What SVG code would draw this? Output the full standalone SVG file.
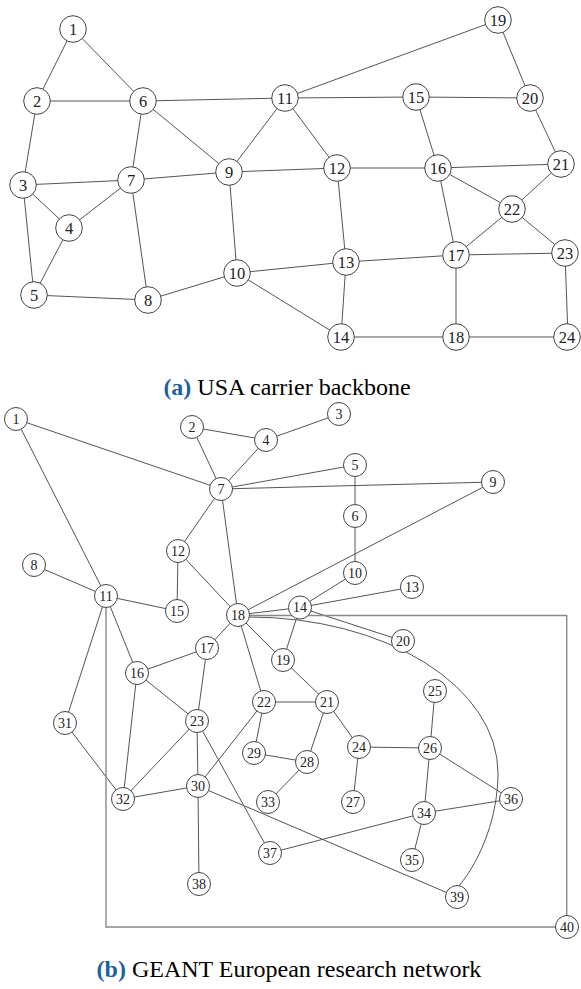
<svg xmlns="http://www.w3.org/2000/svg" width="581" height="989" viewBox="0 0 581 989">
<style>
.e{stroke:#555;stroke-width:1;fill:none}
.r{stroke:#888;stroke-width:1.4;fill:none}
.na circle{fill:#fff;stroke:#444;stroke-width:1}
.nb circle{fill:#fff;stroke:#444;stroke-width:1}
.na text{font-family:"Liberation Serif",serif;font-size:16.5px;fill:#222;text-anchor:middle}
.nb text{font-family:"Liberation Serif",serif;font-size:14px;fill:#222;text-anchor:middle}
.cap{font-family:"Liberation Serif",serif;font-size:24px;fill:#000;text-anchor:middle}
.lb{font-weight:bold;fill:#1f5f9e}
</style>
<rect width="581" height="989" fill="#fff"/>
<g id="connectors-a">
<path class="e" d="M73,29L37,101M73,29L143,101M37,101L143,101M37,101L23,185M143,101L131,180M143,101L229,172M143,101L285,98M23,185L131,180M23,185L69,228M23,185L34,295M69,228L131,180M69,228L34,295M131,180L229,172M131,180L148,300M34,295L148,300M148,300L237,273M229,172L237,273M229,172L285,98M229,172L337,168M285,98L337,168M285,98L416,97M285,98L498,20M416,97L530,98M416,97L438,168M498,20L530,98M530,98L561,164M337,168L438,168M438,168L561,164M438,168L512,209M438,168L456,255M561,164L512,209M512,209L456,255M512,209L565,253M337,168L346,262M237,273L346,262M237,273L341,337M346,262L456,255M346,262L341,337M456,255L565,253M456,255L456,337M341,337L456,337M456,337L568,337M565,253L568,337"/>
</g>
<g id="a1" class="na"><circle cx="73" cy="29" r="13.3"/><text x="73" y="34.6">1</text></g>
<g id="a2" class="na"><circle cx="37" cy="101" r="13.3"/><text x="37" y="106.6">2</text></g>
<g id="a3" class="na"><circle cx="23" cy="185" r="13.3"/><text x="23" y="190.6">3</text></g>
<g id="a4" class="na"><circle cx="69" cy="228" r="13.3"/><text x="69" y="233.6">4</text></g>
<g id="a5" class="na"><circle cx="34" cy="295" r="13.3"/><text x="34" y="300.6">5</text></g>
<g id="a6" class="na"><circle cx="143" cy="101" r="13.3"/><text x="143" y="106.6">6</text></g>
<g id="a7" class="na"><circle cx="131" cy="180" r="13.3"/><text x="131" y="185.6">7</text></g>
<g id="a8" class="na"><circle cx="148" cy="300" r="13.3"/><text x="148" y="305.6">8</text></g>
<g id="a9" class="na"><circle cx="229" cy="172" r="13.3"/><text x="229" y="177.6">9</text></g>
<g id="a10" class="na"><circle cx="237" cy="273" r="13.3"/><text x="237" y="278.6">10</text></g>
<g id="a11" class="na"><circle cx="285" cy="98" r="13.3"/><text x="285" y="103.6">11</text></g>
<g id="a12" class="na"><circle cx="337" cy="168" r="13.3"/><text x="337" y="173.6">12</text></g>
<g id="a13" class="na"><circle cx="346" cy="262" r="13.3"/><text x="346" y="267.6">13</text></g>
<g id="a14" class="na"><circle cx="341" cy="337" r="13.3"/><text x="341" y="342.6">14</text></g>
<g id="a15" class="na"><circle cx="416" cy="97" r="13.3"/><text x="416" y="102.6">15</text></g>
<g id="a16" class="na"><circle cx="438" cy="168" r="13.3"/><text x="438" y="173.6">16</text></g>
<g id="a17" class="na"><circle cx="456" cy="255" r="13.3"/><text x="456" y="260.6">17</text></g>
<g id="a18" class="na"><circle cx="456" cy="337" r="13.3"/><text x="456" y="342.6">18</text></g>
<g id="a19" class="na"><circle cx="498" cy="20" r="13.3"/><text x="498" y="25.6">19</text></g>
<g id="a20" class="na"><circle cx="530" cy="98" r="13.3"/><text x="530" y="103.6">20</text></g>
<g id="a21" class="na"><circle cx="561" cy="164" r="13.3"/><text x="561" y="169.6">21</text></g>
<g id="a22" class="na"><circle cx="512" cy="209" r="13.3"/><text x="512" y="214.6">22</text></g>
<g id="a23" class="na"><circle cx="565" cy="253" r="13.3"/><text x="565" y="258.6">23</text></g>
<g id="a24" class="na"><circle cx="567" cy="337" r="13.3"/><text x="567" y="342.6">24</text></g>
<text class="cap" x="287" y="395"><tspan class="lb">(a)</tspan> USA carrier backbone</text>
<g id="connectors-b">
<path class="e" d="M16,419L221,489M16,419L106,596M192,427L266,440M192,427L221,489M266,440L339,414M266,440L221,489M221,489L355,465M221,489L493,482M221,489L178,551M221,489L238,615M355,465L355,516M355,516L355,573M178,551L177,611M178,551L238,615M34,565L106,596M106,596L177,611M106,596L137,673M106,596L65,723M238,615L493,482M238,615L300,607.5M238,615L207,648M238,615L283,660M238,615L264,702M300,607.5L355,573M300,607.5L412,587M300,607.5L403,641M300,607.5L283,660M283,660L327,702M327,702L264,702M327,702L359,747M327,702L307,762M264,702L254,753M264,702L198,786M254,753L307,762M307,762L268,802M359,747L430,748M359,747L353,802M430,748L435,691M430,748L424,813M430,748L511,799M424,813L511,799M424,813L412,860M424,813L270,853M207,648L137,673M207,648L197,721M137,673L197,721M137,673L123,799M197,721L123,799M197,721L198,786M197,721L270,853M198,786L123,799M198,786L199,884M198,786L457,897M65,723L123,799"/>
<path class="e" d="M249,617A249,156 0 0 1 498,773C498,815 482,858 459,886"/>
<path class="r" d="M238,615.5H566.7V927M106,596V927H566.7"/>
</g>
<g id="b1" class="nb"><circle cx="16" cy="419" r="11.5"/><text x="16" y="423.8">1</text></g>
<g id="b2" class="nb"><circle cx="192" cy="427" r="11.5"/><text x="192" y="431.8">2</text></g>
<g id="b3" class="nb"><circle cx="339" cy="414" r="11.5"/><text x="339" y="418.8">3</text></g>
<g id="b4" class="nb"><circle cx="266" cy="440" r="11.5"/><text x="266" y="444.8">4</text></g>
<g id="b5" class="nb"><circle cx="355" cy="465" r="11.5"/><text x="355" y="469.8">5</text></g>
<g id="b6" class="nb"><circle cx="355" cy="516" r="11.5"/><text x="355" y="520.8">6</text></g>
<g id="b7" class="nb"><circle cx="221" cy="489" r="11.5"/><text x="221" y="493.8">7</text></g>
<g id="b8" class="nb"><circle cx="34" cy="565" r="11.5"/><text x="34" y="569.8">8</text></g>
<g id="b9" class="nb"><circle cx="493" cy="482" r="11.5"/><text x="493" y="486.8">9</text></g>
<g id="b10" class="nb"><circle cx="355" cy="573" r="11.5"/><text x="355" y="577.8">10</text></g>
<g id="b11" class="nb"><circle cx="106" cy="596" r="11.5"/><text x="106" y="600.8">11</text></g>
<g id="b12" class="nb"><circle cx="178" cy="551" r="11.5"/><text x="178" y="555.8">12</text></g>
<g id="b13" class="nb"><circle cx="412" cy="587" r="11.5"/><text x="412" y="591.8">13</text></g>
<g id="b14" class="nb"><circle cx="300" cy="607.5" r="11.5"/><text x="300" y="612.3">14</text></g>
<g id="b15" class="nb"><circle cx="177" cy="611" r="11.5"/><text x="177" y="615.8">15</text></g>
<g id="b16" class="nb"><circle cx="137" cy="673" r="11.5"/><text x="137" y="677.8">16</text></g>
<g id="b17" class="nb"><circle cx="207" cy="648" r="11.5"/><text x="207" y="652.8">17</text></g>
<g id="b18" class="nb"><circle cx="238" cy="615" r="11.5"/><text x="238" y="619.8">18</text></g>
<g id="b19" class="nb"><circle cx="283" cy="660" r="11.5"/><text x="283" y="664.8">19</text></g>
<g id="b20" class="nb"><circle cx="403" cy="641" r="11.5"/><text x="403" y="645.8">20</text></g>
<g id="b21" class="nb"><circle cx="327" cy="702" r="11.5"/><text x="327" y="706.8">21</text></g>
<g id="b22" class="nb"><circle cx="264" cy="702" r="11.5"/><text x="264" y="706.8">22</text></g>
<g id="b23" class="nb"><circle cx="197" cy="721" r="11.5"/><text x="197" y="725.8">23</text></g>
<g id="b24" class="nb"><circle cx="359" cy="747" r="11.5"/><text x="359" y="751.8">24</text></g>
<g id="b25" class="nb"><circle cx="435" cy="691" r="11.5"/><text x="435" y="695.8">25</text></g>
<g id="b26" class="nb"><circle cx="430" cy="748" r="11.5"/><text x="430" y="752.8">26</text></g>
<g id="b27" class="nb"><circle cx="353" cy="802" r="11.5"/><text x="353" y="806.8">27</text></g>
<g id="b28" class="nb"><circle cx="307" cy="762" r="11.5"/><text x="307" y="766.8">28</text></g>
<g id="b29" class="nb"><circle cx="254" cy="753" r="11.5"/><text x="254" y="757.8">29</text></g>
<g id="b30" class="nb"><circle cx="198" cy="786" r="11.5"/><text x="198" y="790.8">30</text></g>
<g id="b31" class="nb"><circle cx="65" cy="723" r="11.5"/><text x="65" y="727.8">31</text></g>
<g id="b32" class="nb"><circle cx="123" cy="799" r="11.5"/><text x="123" y="803.8">32</text></g>
<g id="b33" class="nb"><circle cx="268" cy="802" r="11.5"/><text x="268" y="806.8">33</text></g>
<g id="b34" class="nb"><circle cx="424" cy="813" r="11.5"/><text x="424" y="817.8">34</text></g>
<g id="b35" class="nb"><circle cx="412" cy="860" r="11.5"/><text x="412" y="864.8">35</text></g>
<g id="b36" class="nb"><circle cx="511" cy="799" r="11.5"/><text x="511" y="803.8">36</text></g>
<g id="b37" class="nb"><circle cx="270" cy="853" r="11.5"/><text x="270" y="857.8">37</text></g>
<g id="b38" class="nb"><circle cx="199" cy="884" r="11.5"/><text x="199" y="888.8">38</text></g>
<g id="b39" class="nb"><circle cx="457" cy="897" r="11.5"/><text x="457" y="901.8">39</text></g>
<g id="b40" class="nb"><circle cx="567" cy="927" r="11.5"/><text x="567" y="931.8">40</text></g>
<text class="cap" x="289" y="977"><tspan class="lb">(b)</tspan> GEANT European research network</text>
</svg>
